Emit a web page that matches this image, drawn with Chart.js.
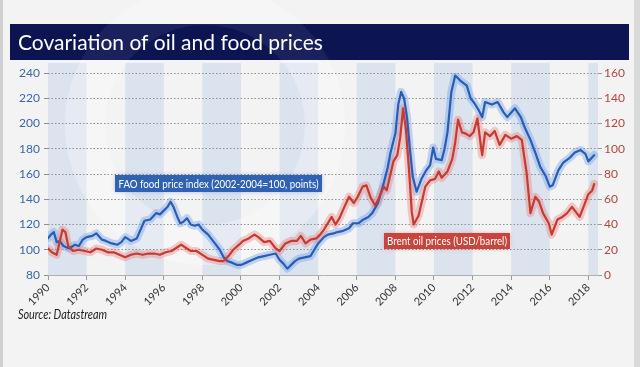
<!DOCTYPE html>
<html>
<head>
<meta charset="utf-8">
<script src="https://cdn.jsdelivr.net/npm/chart.js@4.4.1/dist/chart.umd.min.js"></script>
<style>
html, body { margin: 0; padding: 0; }
body { width: 640px; height: 367px; background: #f3f3f3; overflow: hidden; position: relative; }
#frameL { position: absolute; left: 0; top: 0; width: 3px; height: 367px; background: #cfcfcf; }
#frameR { position: absolute; right: 0; top: 0; width: 6px; height: 367px; background: #dadada; }
#wrap { position: absolute; left: 0; top: 0; width: 640px; height: 367px; }
</style>
</head>
<body>
<div id="frameL"></div><div id="frameR"></div>
<div id="wrap"><canvas id="chart"></canvas></div>
<script>
// FAO food price index (left axis)
var foodYears = [1990.0, 1990.15, 1990.3, 1990.45, 1990.6, 1990.8, 1991.1, 1991.4, 1991.6, 1991.8,
  1992.0, 1992.3, 1992.5, 1992.8, 1993.0, 1993.3, 1993.6, 1993.8, 1994.0, 1994.3, 1994.6, 1994.8,
  1995.0, 1995.3, 1995.6, 1995.8, 1996.0, 1996.2, 1996.35, 1996.5, 1996.7, 1996.85, 1997.0, 1997.2,
  1997.4, 1997.6, 1997.8, 1998.0, 1998.3, 1998.6, 1998.9, 1999.1, 1999.3, 1999.5, 1999.8, 2000.0,
  2000.3, 2000.6, 2000.9, 2001.2, 2001.5, 2001.8, 2002.0, 2002.2, 2002.4, 2002.6, 2002.8, 2003.0,
  2003.3, 2003.6, 2003.8, 2004.0, 2004.3, 2004.5, 2004.8, 2005.0, 2005.3, 2005.6, 2005.8, 2006.1,
  2006.35, 2006.6, 2006.8, 2007.1, 2007.4, 2007.6, 2007.75, 2008.0, 2008.15, 2008.3, 2008.45, 2008.6,
  2008.75, 2008.9, 2009.1, 2009.35, 2009.6, 2009.8, 2009.96, 2010.1, 2010.4, 2010.55, 2010.7, 2010.9,
  2011.1, 2011.36, 2011.7, 2011.9, 2012.1, 2012.3, 2012.5, 2012.65, 2013.0, 2013.3, 2013.6, 2013.8,
  2013.9, 2014.2, 2014.5, 2014.7, 2015.0, 2015.25, 2015.5, 2015.8, 2016.0, 2016.15, 2016.45, 2016.7,
  2017.05, 2017.3, 2017.6, 2017.85, 2018.0, 2018.25, 2018.3];
var foodIndex = [109, 112, 114, 106, 107, 103, 101, 104, 103, 108,
  110, 111, 113, 108, 107, 105, 104, 106, 110, 107, 109, 116,
  123, 124, 129, 128, 131, 134, 138, 134, 126, 121, 122, 125,
  120, 119, 120, 116, 112, 106, 100, 94, 91, 90, 88, 88,
  90, 92, 94, 95, 96, 97, 92, 89, 85, 88, 91, 93,
  94, 95, 100, 105, 110, 112, 113, 114, 115, 117, 121, 121,
  124, 126, 129, 137, 153, 165, 177, 192, 215, 225, 220, 205,
  180, 158, 146, 156, 163, 167, 181, 172, 171, 180, 193, 225,
  238, 234, 230, 220, 216, 211, 205, 217, 215, 217, 209, 205,
  207, 212, 205, 197, 187, 177, 166, 158, 150, 151, 163, 169,
  173, 177, 179, 176, 170, 174, 175];

// Brent oil prices, USD/barrel (right axis)
var oilYears = [1990.0, 1990.2, 1990.45, 1990.6, 1990.75, 1990.9, 1991.05, 1991.3, 1991.6, 1991.9,
  1992.2, 1992.5, 1992.8, 1993.1, 1993.4, 1993.7, 1994.0, 1994.3, 1994.6, 1994.9, 1995.2, 1995.5,
  1995.8, 1996.1, 1996.4, 1996.7, 1996.9, 1997.1, 1997.4, 1997.7, 1998.0, 1998.3, 1998.6, 1998.9,
  1999.1, 1999.35, 1999.6, 1999.9, 2000.1, 2000.4, 2000.7, 2000.9, 2001.2, 2001.5, 2001.8, 2002.0,
  2002.3, 2002.6, 2002.9, 2003.1, 2003.35, 2003.6, 2003.9, 2004.1, 2004.3, 2004.5, 2004.7, 2004.9,
  2005.1, 2005.3, 2005.6, 2005.85, 2006.05, 2006.3, 2006.5, 2006.7, 2006.95, 2007.15, 2007.4, 2007.55,
  2007.75, 2007.9, 2008.1, 2008.25, 2008.4, 2008.55, 2008.7, 2008.85, 2008.95, 2009.2, 2009.4, 2009.55,
  2009.8, 2010.05, 2010.25, 2010.4, 2010.7, 2010.95, 2011.1, 2011.25, 2011.45, 2011.65, 2011.85, 2012.05,
  2012.25, 2012.45, 2012.5, 2012.65, 2012.9, 2013.15, 2013.4, 2013.7, 2014.0, 2014.3, 2014.55, 2014.8,
  2015.0, 2015.25, 2015.45, 2015.65, 2015.95, 2016.1, 2016.4, 2016.65, 2016.9, 2017.15, 2017.4, 2017.55,
  2017.8, 2018.0, 2018.2, 2018.3];
var oilPrice = [21, 18, 16, 26, 36, 34, 23, 19, 20, 19,
  18, 21, 20, 18, 18, 16, 14, 16, 17, 16, 17, 17,
  16, 18, 19, 22, 24, 22, 19, 19, 16, 13, 12, 11,
  11, 15, 20, 24, 27, 29, 32, 30, 26, 27, 21, 19,
  25, 27, 27, 31, 25, 28, 29, 32, 36, 41, 46, 40,
  45, 52, 62, 57, 62, 70, 71, 62, 55, 61, 70, 67,
  80, 90, 95, 109, 132, 115, 85, 50, 40, 47, 60, 70,
  75, 76, 82, 77, 82, 92, 105, 123, 113, 112, 110, 113,
  124, 100, 95, 113, 110, 114, 103, 111, 108, 110, 107, 81,
  49, 62, 58, 49, 41, 32, 44, 46, 49, 54, 49, 46,
  56, 64, 67, 72];

var yearTicks = [1990, 1992, 1994, 1996, 1998, 2000, 2002, 2004, 2006, 2008, 2010, 2012, 2014, 2016, 2018];

var titleText = 'Covariation of oil and food prices';
var foodLabel = 'FAO food price index (2002-2004=100, points)';
var oilLabel = 'Brent oil prices (USD/barrel)';
var sourceText = 'Source: Datastream';

function pairs(xs, ys) {
  return xs.map(function(x, i) { return { x: x, y: ys[i] }; });
}

// bands, watermark, title bar and label boxes
var decor = {
  id: 'decor',
  beforeDraw: function(chart) {
    var ctx = chart.ctx, area = chart.chartArea, xs = chart.scales.x;
    ctx.save();
    ctx.fillStyle = 'rgba(190,208,232,0.45)';
    for (var y = 1990; y <= 2018; y += 4) {
      var x1 = xs.getPixelForValue(y);
      var x2 = xs.getPixelForValue(Math.min(y + 2, 2018.5));
      ctx.fillRect(x1, area.top - 10, x2 - x1, area.bottom - area.top + 10);
    }
    // faint logo ring behind the plot
    ctx.strokeStyle = 'rgba(255,255,255,0.3)';
    ctx.lineWidth = 40;
    ctx.beginPath();
    ctx.arc(205, 125, 120, 0, Math.PI * 2);
    ctx.stroke();
    ctx.fillStyle = '#0c1452';
    ctx.fillRect(10, 24, 619, 36);
    ctx.save();
    ctx.beginPath();
    ctx.rect(10, 24, 619, 36);
    ctx.clip();
    ctx.strokeStyle = 'rgba(255,255,255,0.06)';
    ctx.beginPath();
    ctx.arc(205, 125, 120, 0, Math.PI * 2);
    ctx.stroke();
    ctx.restore();
    ctx.fillStyle = '#ffffff';
    ctx.font = '21px Lato';
    ctx.textBaseline = 'alphabetic';
    ctx.fillText(titleText, 18, 50, 309);
    ctx.restore();
  },
  afterDraw: function(chart) {
    var ctx = chart.ctx;
    ctx.save();
    ctx.textBaseline = 'middle';
    ctx.textAlign = 'center';
    ctx.shadowColor = 'rgba(60,90,160,0.35)';
    ctx.shadowBlur = 4;
    ctx.fillStyle = '#2f62b3';
    ctx.fillRect(115, 175, 207, 17);
    ctx.shadowColor = 'rgba(200,80,70,0.35)';
    ctx.fillStyle = '#c7453c';
    ctx.fillRect(384, 233, 126, 16);
    ctx.shadowBlur = 0;
    ctx.font = '12px Lato';
    ctx.fillStyle = '#ffffff';
    ctx.fillText(foodLabel, 218.5, 184, 200);
    ctx.fillText(oilLabel, 447, 241.5, 120);
    ctx.textAlign = 'left';
    ctx.fillStyle = '#222222';
    ctx.font = 'italic 12.5px Lato';
    ctx.fillText(sourceText, 18, 315, 89);
    ctx.restore();
  }
};

var ctx = document.getElementById('chart').getContext('2d');
var chart = new Chart(ctx, {
  type: 'line',
  data: {
    datasets: [
      { data: pairs(oilYears, oilPrice), yAxisID: 'y1', borderColor: '#c43b33', borderWidth: 2.2, order: 1 },
      { data: pairs(foodYears, foodIndex), yAxisID: 'y', borderColor: '#2a5cb3', borderWidth: 2.2, order: 2 },
      { data: pairs(oilYears, oilPrice), yAxisID: 'y1', borderColor: 'rgba(232,130,122,0.4)', borderWidth: 8, order: 3 },
      { data: pairs(foodYears, foodIndex), yAxisID: 'y', borderColor: 'rgba(110,160,235,0.4)', borderWidth: 8, order: 4 }
    ]
  },
  options: {
    responsive: true,
    maintainAspectRatio: false,
    animation: false,
    layout: { padding: { top: 73, left: 0, right: 0, bottom: 0 } },
    elements: { point: { radius: 0 }, line: { tension: 0, borderJoinStyle: 'round', borderCapStyle: 'round' } },
    plugins: { legend: { display: false }, tooltip: { enabled: false } },
    scales: {
      x: {
        type: 'linear',
        min: 1990,
        max: 2018.5,
        afterBuildTicks: function(s) { s.ticks = yearTicks.map(function(v) { return { value: v }; }); },
        afterFit: function(s) { s.height = 92; },
        grid: { drawOnChartArea: false, tickLength: 5, color: '#9a9a9a' },
        border: { display: true, color: '#b0b0b0' },
        ticks: {
          autoSkip: false, minRotation: 45, maxRotation: 45, padding: 1,
          color: '#333333', font: { family: 'Lato', size: 11 },
          callback: function(v) { return String(v); }
        }
      },
      y: {
        position: 'left',
        min: 80,
        max: 240,
        afterFit: function(s) { s.width = 48; },
        grid: { color: '#8f8f8f', tickLength: 4, tickBorderDash: [] },
        border: { display: false, dash: [1.5, 2] },
        ticks: { stepSize: 20, padding: 4, color: '#3b67a6', font: { family: 'Lato', size: 12 } }
      },
      y1: {
        position: 'right',
        min: 0,
        max: 160,
        afterFit: function(s) { s.width = 42; },
        grid: { drawOnChartArea: false, color: '#9a9a9a', tickLength: 4 },
        border: { display: false },
        ticks: { stepSize: 20, padding: 2, color: '#b3453e', font: { family: 'Lato', size: 12 } }
      }
    }
  },
  plugins: [decor]
});
</script>
</body>
</html>
